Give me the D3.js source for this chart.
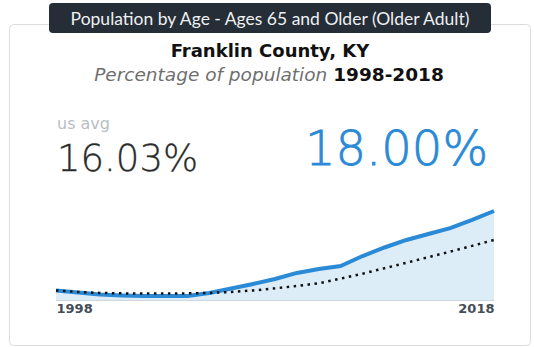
<!DOCTYPE html>
<html>
<head>
<meta charset="utf-8">
<script src="https://cdn.jsdelivr.net/npm/d3@7"></script>
<style>
  html, body { margin: 0; padding: 0; background: #fff; }
  svg { display: block; }
</style>
</head>
<body>
<svg id="chart" width="534" height="347"></svg>
<script>
const years = [1998,1999,2000,2001,2002,2003,2004,2005,2006,2007,2008,2009,2010,2011,2012,2013,2014,2015,2016,2017,2018];
const countyValues = [12.60,12.46,12.32,12.26,12.22,12.22,12.22,12.43,12.73,13.04,13.38,13.79,14.06,14.26,14.94,15.52,16.03,16.44,16.84,17.39,18.00];
const usValues = [12.60,12.50,12.43,12.40,12.39,12.39,12.40,12.43,12.50,12.60,12.74,12.90,13.09,13.40,13.74,14.11,14.48,14.86,15.24,15.63,16.03];
const tickLabels = ["1998","2018"];
const titleText = "Population by Age - Ages 65 and Older (Older Adult)";
const placeText = "Franklin County, KY";
const subtitleText = "Percentage of population";
const rangeText = "1998-2018";
const usAvgLabel = "us avg";
const usAvgText = "16.03%";
const countyText = "18.00%";
const yMin = 11.95;

const svg = d3.select("#chart");

// card
svg.append("rect").attr("x", 9.5).attr("y", 24.5).attr("width", 521).attr("height", 321)
  .attr("rx", 4).attr("fill", "#fff").attr("stroke", "#dcdcdc");

// title badge
svg.append("rect").attr("x", 49).attr("y", 3).attr("width", 442).attr("height", 30)
  .attr("rx", 4).attr("fill", "#252d37");
svg.append("text").attr("x", 270).attr("y", 24.5).attr("text-anchor", "middle")
  .attr("font-family", "Lato").attr("font-size", 17.5).attr("fill", "#eef0f2")
  .text(titleText);

// headings
svg.append("text").attr("x", 270).attr("y", 57).attr("text-anchor", "middle")
  .attr("font-family", "DejaVu Sans").attr("font-weight", "bold").attr("font-size", 18)
  .attr("fill", "#111").text(placeText);
const sub = svg.append("text").attr("x", 269).attr("y", 80.5).attr("text-anchor", "middle")
  .attr("font-family", "DejaVu Sans").attr("font-size", 18.5);
sub.append("tspan").attr("font-style", "italic").attr("fill", "#6f6f6f").text(subtitleText + " ");
sub.append("tspan").attr("font-weight", "bold").attr("fill", "#111").text(rangeText);

// big numbers
svg.append("text").attr("x", 57).attr("y", 129).attr("font-family", "DejaVu Sans")
  .attr("font-size", 16).attr("fill", "#b9bec3").text(usAvgLabel);
svg.append("text").attr("x", 57).attr("y", 170.5).attr("font-family", "DejaVu Sans")
  .attr("font-weight", 200).attr("font-size", 37).attr("fill", "#2b2b2b")
  .attr("stroke", "#2b2b2b").attr("stroke-width", 0.3).text(usAvgText);
svg.append("text").attr("x", 488).attr("y", 165).attr("text-anchor", "end").attr("font-family", "DejaVu Sans")
  .attr("font-weight", 200).attr("font-size", 48).attr("fill", "#2a8ad6")
  .attr("stroke", "#2a8ad6").attr("stroke-width", 0.8).text(countyText);

// chart
const x = d3.scaleLinear().domain([years[0], years[years.length-1]]).range([56, 494]);
const y = d3.scaleLinear().domain([yMin, 18.0]).range([300, 211]);

const county = years.map((yr, i) => ({yr, v: countyValues[i]}));
const us = years.map((yr, i) => ({yr, v: usValues[i]}));

const area = d3.area().x(d => x(d.yr)).y0(y(yMin)).y1(d => y(d.v));
svg.append("path").datum(county).attr("d", area).attr("fill", "#ddedf8");

svg.append("line").attr("x1", 56).attr("x2", 494).attr("y1", 300.5).attr("y2", 300.5)
  .attr("stroke", "#cfd6dd").attr("stroke-width", 1);

const line = d3.line().x(d => x(d.yr)).y(d => y(d.v));
svg.append("path").datum(county).attr("d", line).attr("fill", "none")
  .attr("stroke", "#2a8ad6").attr("stroke-width", 4).attr("stroke-linejoin", "round");
svg.append("path").datum(us).attr("d", line).attr("fill", "none")
  .attr("stroke", "#111").attr("stroke-width", 2.5).attr("stroke-dasharray", "2.5,4.5");

// axis labels
const axis = d3.axisBottom(x).tickValues([years[0], years[years.length-1]])
  .tickFormat((d, i) => tickLabels[i]).tickSize(0).tickPadding(0);
const g = svg.append("g").attr("transform", "translate(0,303)").call(axis);
g.select(".domain").remove();
g.selectAll("text").attr("font-family", "DejaVu Sans").attr("font-weight", "bold")
  .attr("font-size", 13).attr("fill", "#454d57").attr("dy", "0.78em")
  .attr("text-anchor", (d, i) => i === 0 ? "start" : "end");
</script>
</body>
</html>
